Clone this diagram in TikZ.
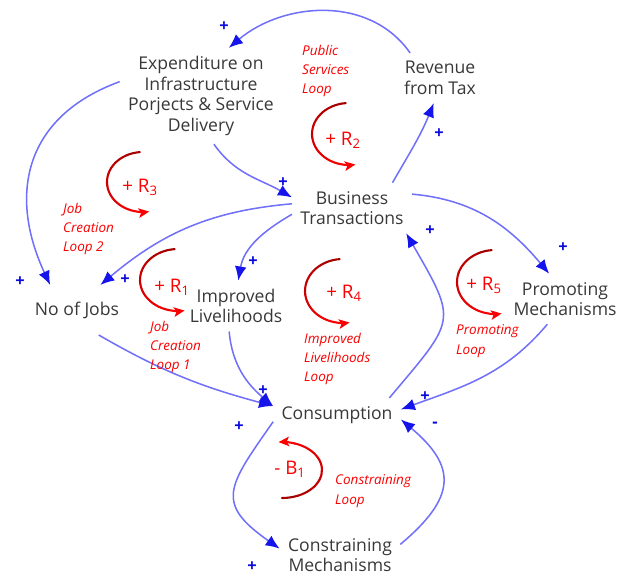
\documentclass[tikz,border=0pt]{standalone}
\usepackage{fontspec}
\setmainfont{Open Sans}
\usetikzlibrary{arrows.meta}

\definecolor{linkblue}{RGB}{112,112,250}
\definecolor{tipblue}{RGB}{20,20,235}
\definecolor{signblue}{RGB}{10,10,220}
\definecolor{loopred}{RGB}{250,0,0}

\tikzset{
  var/.style={align=center, inner sep=7pt, text=black!78, font=\fontsize{15}{17.6}\selectfont},
  link/.style={draw=linkblue, line width=1.3pt, -{Latex[length=12pt, width=10pt, color=tipblue]}},
  sign/.style={text=signblue, inner sep=0pt, font=\fontsize{14}{14}\selectfont\bfseries},
  looptag/.style={text=loopred, inner sep=0pt, font=\fontsize{16}{16}\selectfont},
  loopname/.style={text=loopred, align=left, anchor=west, inner sep=0pt, font=\fontsize{11.5}{16.6}\selectfont\itshape},
  loopline/.style={line width=1.8pt, line cap=round}
}

% loop marker: centre, start angle, end angle, x radius, y radius
\newcommand{\loopturn}[5]{%
  \foreach \k in {0,...,6}{%
    \pgfmathsetmacro{\angA}{#2+(#3-#2)*\k/8}%
    \pgfmathsetmacro{\angB}{#2+(#3-#2)*(\k+1)/8}%
    \pgfmathtruncatemacro{\redpart}{66+\k*5}%
    \draw[loopline, draw=loopred!\redpart!black] ([shift={(\angA:#4 and #5)}]#1)
      arc[start angle=\angA, end angle=\angB, x radius=#4, y radius=#5];
  }%
  \pgfmathsetmacro{\angA}{#2+(#3-#2)*7/8}%
  \draw[loopline, draw=loopred, -{Stealth[length=9pt, width=8pt, inset=2pt]}] ([shift={(\angA:#4 and #5)}]#1)
    arc[start angle=\angA, end angle=#3, x radius=#4, y radius=#5];
}

\begin{document}
\begin{tikzpicture}[x=0.03cm, y=0.03cm]
  \useasboundingbox (0,0) rectangle (618,575);

  % variables
  \node (exp) [var] at (201,479) {Expenditure on\\Infrastructure\\Porjects \& Service\\Delivery};
  \node (rev) [var] at (440,497) {Revenue\\from Tax};
  \node (bt) [var] at (352,367) {Business\\Transactions};
  \node (jobs) [var, inner ysep=14pt] at (77,265) {No of Jobs};
  \node (il) [var] at (236,269) {Improved\\Livelihoods};
  \node (pm) [var] at (565,276) {Promoting\\Mechanisms};
  \node (cons) [var] at (337,160) {Consumption};
  \node (cm) [var] at (340,20) {Constraining\\Mechanisms};

  % causal links
  \draw[link] (rev.140) to[out=125, in=40] (exp.60);
  \draw[link] (exp.-75) to[out=-55, in=150] (bt.170);
  \draw[link] (exp.170) to[out=200, in=115, looseness=1.2] (jobs.137);
  \draw[link] (bt.32) to[out=60, in=-112] (rev.-104);
  \draw[link] (bt.176) to[out=185, in=40] (jobs.47);
  \draw[link] (bt.186) to[out=210, in=80] (il.85);
  \draw[link] (bt.13) to[out=-5, in=130] (pm.122);
  \draw[link] (cons.18) to[out=50, in=-60, looseness=1.6] (bt.-25);
  \draw[link] (pm.-125) to[out=230, in=20] (cons.5);
  \draw[link] (jobs.-49) to[out=-30, in=165] (cons.172);
  \draw[link] (il.-105) to[out=-85, in=140] (cons.172);
  \draw[link] (cons.186) to[out=235, in=145, looseness=1.6] (cm.174);
  \draw[link] (cm.10) to[out=40, in=-40, looseness=1.5] (cons.-4);

  % polarities
  \node (p1) [sign] at (224,548) {+};
  \node (p2) [sign] at (283,392) {+};
  \node (p3) [sign] at (20,293) {+};
  \node (p4) [sign] at (125,295) {+};
  \node (p5) [sign] at (253,313) {+};
  \node (p6) [sign] at (439,441) {+};
  \node (p7) [sign] at (563,327) {+};
  \node (p8) [sign] at (430,344) {+};
  \node (p9) [sign] at (263,184) {+};
  \node (p10) [sign] at (425,178) {+};
  \node (p11) [sign] at (239,148) {+};
  \node (p12) [sign] at (252,8) {+};
  \node (m1) [sign] at (435,150) {-};

  % loops
  \coordinate (r1) at (178,295);
  \coordinate (r2) at (349,441);
  \coordinate (r3) at (143,393);
  \coordinate (r4) at (343,284);
  \coordinate (r5) at (495,293);
  \coordinate (b1) at (282,105);
  \loopturn{r1}{95}{280}{38}{31}
  \loopturn{r2}{95}{280}{37}{31}
  \loopturn{r3}{95}{280}{36}{30}
  \loopturn{r4}{95}{280}{38}{32}
  \loopturn{r5}{95}{280}{38}{32}
  \loopturn{b1}{-90}{95}{40}{28}

  \node (t_r1) [looptag] at (172,288) {+ R\textsubscript{1}};
  \node (t_r2) [looptag] at (343,435) {+ R\textsubscript{2}};
  \node (t_r3) [looptag] at (140,388) {+ R\textsubscript{3}};
  \node (t_r4) [looptag] at (344,282) {+ R\textsubscript{4}};
  \node (t_r5) [looptag] at (484,290) {+ R\textsubscript{5}};
  \node (t_b1) [looptag] at (290,106) {- B\textsubscript{1}};

  \node (n_r1) [loopname] at (150,228) {Job\\Creation\\Loop 1};
  \node (n_r2) [loopname] at (302,504) {Public\\Services\\Loop};
  \node (n_r3) [loopname] at (63,346) {Job\\Creation\\Loop 2};
  \node (n_r4) [loopname] at (304,216) {Improved\\Livelihoods\\Loop};
  \node (n_r5) [loopname] at (456,234) {Promoting\\Loop};
  \node (n_b1) [loopname] at (335,84) {Constraining\\Loop};
\end{tikzpicture}
\end{document}
